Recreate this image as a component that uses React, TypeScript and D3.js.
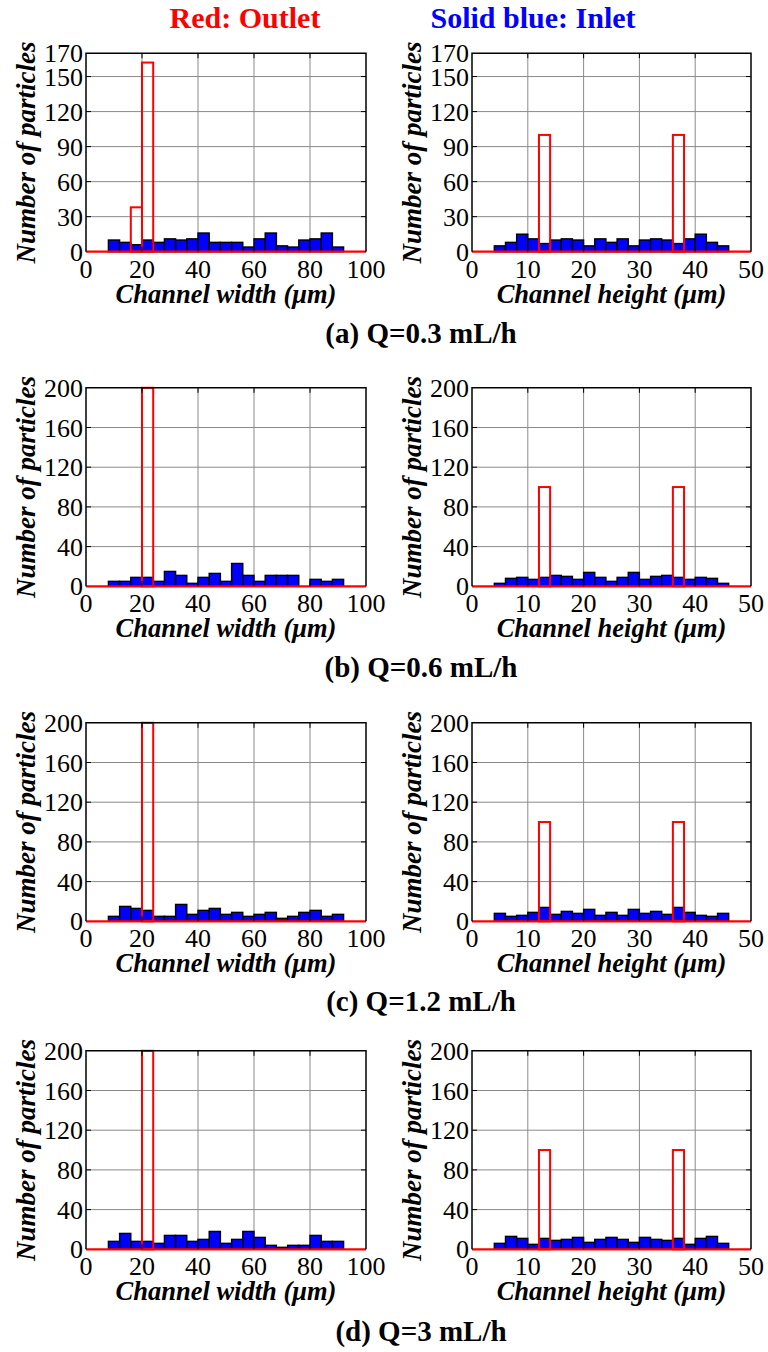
import React from "react";
import * as d3 from "d3";

// ---- Data ----
const widthBins = [8, 12, 16, 20, 24, 28, 32, 36, 40, 44, 48, 52, 56, 60, 64, 68, 72, 76, 80, 84, 88];
const heightBins = [4, 6, 8, 10, 12, 14, 16, 18, 20, 22, 24, 26, 28, 30, 32, 34, 36, 38, 40, 42, 44];

const inletWidthA = [10, 8, 6, 10, 8, 11, 10, 11, 16, 8, 8, 8, 4, 11, 16, 5, 4, 10, 11, 16, 4];
const inletHeightA = [5, 8, 15, 11, 7, 10, 11, 10, 5, 11, 8, 11, 5, 10, 11, 10, 7, 11, 15, 8, 5];
const inletWidthB = [5, 5, 9, 9, 5, 15, 11, 3, 9, 13, 5, 23, 11, 5, 11, 11, 11, 0, 7, 5, 7];
const inletHeightB = [3, 8, 9, 7, 9, 11, 10, 7, 14, 9, 5, 9, 14, 7, 10, 11, 9, 7, 9, 8, 3];
const inletWidthC = [5, 15, 13, 11, 5, 5, 17, 7, 11, 13, 7, 9, 5, 7, 9, 3, 5, 9, 11, 5, 7];
const inletHeightC = [8, 5, 6, 9, 14, 7, 10, 8, 12, 6, 9, 6, 12, 8, 10, 7, 14, 9, 6, 5, 8];
const inletWidthD = [8, 16, 8, 8, 6, 14, 14, 8, 10, 18, 6, 10, 18, 12, 4, 2, 4, 4, 14, 8, 8];
const inletHeightD = [6, 13, 11, 5, 11, 9, 10, 12, 7, 10, 12, 10, 7, 12, 10, 9, 11, 5, 11, 13, 6];

// Outlet (red) non-zero bins: [binStart, count]
const outletWidthA = [[16, 38], [20, 162]];
const outletWidthBCD = [[20, 200]];
const outletHeight = [[12, 100], [36, 100]];

const yTicksA = [0, 30, 60, 90, 120, 150, 170];
const yTicksBCD = [0, 40, 80, 120, 160, 200];
const xTicksWidth = [0, 20, 40, 60, 80, 100];
const xTicksHeight = [0, 10, 20, 30, 40, 50];

const captions = ["(a) Q=0.3 mL/h", "(b) Q=0.6 mL/h", "(c) Q=1.2 mL/h", "(d) Q=3 mL/h"];

const FONT = '"Liberation Serif", Tinos, "Times New Roman", "DejaVu Serif", serif';

type PanelProps = {
  x0: number; x1: number; yBottom: number; yTop: number;
  xMax: number; binW: number; bins: number[]; inlet: number[];
  outlet: number[][]; xTicks: number[]; yTicks: number[]; yMax: number;
  xTitle: string;
};

const tStyle = { fontFamily: FONT } as React.CSSProperties;

function Panel(p: PanelProps) {
  const x = d3.scaleLinear().domain([0, p.xMax]).range([p.x0, p.x1]);
  const y = d3.scaleLinear().domain([0, p.yMax]).range([p.yBottom, p.yTop]);
  const nOut = Math.round(p.xMax / p.binW);
  const outBins = d3.range(nOut).map((i) => {
    const s = i * p.binW;
    const f = p.outlet.find((o) => o[0] === s);
    return { s, v: f ? f[1] : 0 };
  });
  const cx = (p.x0 + p.x1) / 2;
  const cy = (p.yTop + p.yBottom) / 2;
  const tl = 5;
  return (
    <g>
      {p.xTicks.slice(1, -1).map((t) => (
        <line key={"gx" + t} x1={x(t)} x2={x(t)} y1={p.yTop} y2={p.yBottom} stroke="#8a8a8a" strokeWidth={1} />
      ))}
      {p.yTicks.slice(1, -1).map((t) => (
        <line key={"gy" + t} x1={p.x0} x2={p.x1} y1={y(t)} y2={y(t)} stroke="#8a8a8a" strokeWidth={1} />
      ))}
      {p.bins.map((b, i) =>
        p.inlet[i] > 0 ? (
          <rect key={"b" + i} x={x(b)} y={y(p.inlet[i])} width={x(b + p.binW) - x(b)} height={y(0) - y(p.inlet[i])}
            fill="#0000ff" stroke="#000" strokeWidth={1.4} />
        ) : null
      )}
      {outBins.map((o, i) =>
        o.v > 0 ? (
          <rect key={"o" + i} x={x(o.s)} y={y(o.v)} width={x(o.s + p.binW) - x(o.s)} height={y(0) - y(o.v)}
            fill="none" stroke="#ff0000" strokeWidth={2} />
        ) : null
      )}
      <line x1={x(0)} x2={x(p.xMax)} y1={y(0)} y2={y(0)} stroke="#ff0000" strokeWidth={2.2} />
      {p.xTicks.slice(1, -1).map((t) => (
        <g key={"tx" + t}>
          <line x1={x(t)} x2={x(t)} y1={p.yBottom} y2={p.yBottom - tl} stroke="#000" strokeWidth={1} />
          <line x1={x(t)} x2={x(t)} y1={p.yTop} y2={p.yTop + tl} stroke="#000" strokeWidth={1} />
        </g>
      ))}
      {p.yTicks.slice(1, -1).map((t) => (
        <g key={"ty" + t}>
          <line x1={p.x0} x2={p.x0 + tl} y1={y(t)} y2={y(t)} stroke="#000" strokeWidth={1} />
          <line x1={p.x1} x2={p.x1 - tl} y1={y(t)} y2={y(t)} stroke="#000" strokeWidth={1} />
        </g>
      ))}
      <path d={`M${p.x0},${p.yBottom}V${p.yTop}H${p.x1}V${p.yBottom}`} fill="none" stroke="#000" strokeWidth={1.5} />
      {p.xTicks.map((t) => (
        <text key={"lx" + t} x={x(t)} y={p.yBottom + 26} textAnchor="middle" style={tStyle} fontSize={26} fill="#000">{t}</text>
      ))}
      {p.yTicks.map((t) => (
        <text key={"ly" + t} x={p.x0 - 3} y={y(t) + 9} textAnchor="end" style={tStyle} fontSize={26} fill="#000">{t}</text>
      ))}
      <text x={cx} y={p.yBottom + 51} textAnchor="middle" style={tStyle} fontSize={26.5} fontWeight="bold" fontStyle="italic" fill="#000">
        {p.xTitle}
      </text>
      <text transform={`translate(${p.x0 - 51},${cy}) rotate(-90)`} textAnchor="middle" style={tStyle} fontSize={27} fontWeight="bold" fontStyle="italic" fill="#000">
        Number of particles
      </text>
    </g>
  );
}

export default function App() {
  const bottoms = [251.7, 586.3, 921.3, 1249.3];
  const H = 198.5;
  const inletW = [inletWidthA, inletWidthB, inletWidthC, inletWidthD];
  const inletH = [inletHeightA, inletHeightB, inletHeightC, inletHeightD];
  const captionY = [343, 677, 1011, 1341];
  return (
    <svg width={768} height={1352} style={{ position: "absolute", left: 0, top: 0, background: "#fff" }}>
      <rect x={0} y={0} width={768} height={1352} fill="#fff" />
      <text x={245} y={28} textAnchor="middle" style={tStyle} fontSize={30} fontWeight="bold" fill="#ff0000">Red: Outlet</text>
      <text x={533} y={28} textAnchor="middle" style={tStyle} fontSize={30} fontWeight="bold" fill="#0000ff">Solid blue: Inlet</text>
      {bottoms.map((b, r) => {
        const yMax = r === 0 ? 170 : 200;
        const yTicks = r === 0 ? yTicksA : yTicksBCD;
        return (
          <g key={r}>
            <Panel x0={86} x1={366} yBottom={b} yTop={b - H} xMax={100} binW={4} bins={widthBins} inlet={inletW[r]}
              outlet={r === 0 ? outletWidthA : outletWidthBCD} xTicks={xTicksWidth} yTicks={yTicks} yMax={yMax}
              xTitle="Channel width (μm)" />
            <Panel x0={472} x1={751} yBottom={b} yTop={b - H} xMax={50} binW={2} bins={heightBins} inlet={inletH[r]}
              outlet={outletHeight} xTicks={xTicksHeight} yTicks={yTicks} yMax={yMax}
              xTitle="Channel height (μm)" />
            <text x={421} y={captionY[r]} textAnchor="middle" style={tStyle} fontSize={29} fontWeight="bold" fill="#000">
              {captions[r]}
            </text>
          </g>
        );
      })}
    </svg>
  );
}
